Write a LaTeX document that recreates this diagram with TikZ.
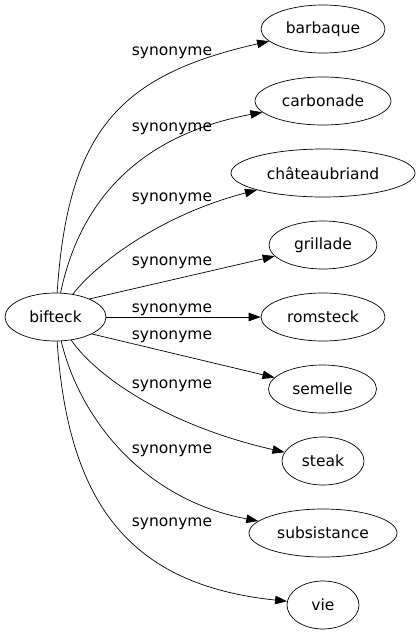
\documentclass[tikz,border=0pt]{standalone}
\usepackage{fontspec}
\setmainfont{DejaVu Sans}
\usetikzlibrary{shapes.geometric}
\usetikzlibrary{arrows.meta}

\tikzset{
  word/.style={draw, ellipse, inner sep=0pt, minimum height=48pt},
  syn/.style={draw, arrows={-{Triangle[length=12pt, width=8.5pt]}}},
  lbl/.style={anchor=base, inner sep=0pt},
}

\begin{document}
\begin{tikzpicture}[x=1pt, y=-1pt, line width=0.7pt, font=\fontsize{15.5}{18}\selectfont]
\useasboundingbox (0, 0) rectangle (420, 635);

% words
\node[word, minimum width=101pt] (bifteck) at (55.5, 317) {bifteck};
\node[word, minimum width=124pt] (barbaque) at (323, 29) {barbaque};
\node[word, minimum width=136pt] (carbonade) at (323, 101) {carbonade};
\node[word, minimum width=184pt] (chateau) at (323, 173) {châteaubriand};
\node[word, minimum width=108pt] (grillade) at (323, 245) {grillade};
\node[word, minimum width=124pt] (romsteck) at (323, 317) {romsteck};
\node[word, minimum width=108pt] (semelle) at (322.5, 389) {semelle};
\node[word, minimum width=82pt] (steak) at (323, 461) {steak};
\node[word, minimum width=148pt] (subsistance) at (323, 533) {subsistance};
\node[word, minimum width=72pt] (vie) at (323, 605) {vie};

% edges
\draw[syn] (bifteck) .. controls (68, 130) and (120, 75) .. (barbaque);
\draw[syn] (bifteck) .. controls (80, 200) and (140, 135) .. (carbonade);
\draw[syn] (bifteck) .. controls (95, 265) and (160, 215) .. (chateau);
\draw[syn] (bifteck.28) -- (grillade);
\draw[syn] (bifteck) -- (romsteck);
\draw[syn] (bifteck.-25) -- (semelle);
\draw[syn] (bifteck) .. controls (95, 375) and (165, 425) .. (steak);
\draw[syn] (bifteck) .. controls (80, 420) and (145, 500) .. (subsistance);
\draw[syn] (bifteck) .. controls (68, 504) and (130, 585) .. (vie);

% labels
\node[lbl] (l1) at (172, 55) {synonyme};
\node[lbl] (l2) at (172, 131.5) {synonyme};
\node[lbl] (l3) at (172, 201.5) {synonyme};
\node[lbl] (l4) at (172, 265) {synonyme};
\node[lbl] (l5) at (172, 312.5) {synonyme};
\node[lbl] (l6) at (172, 339.5) {synonyme};
\node[lbl] (l7) at (172, 388) {synonyme};
\node[lbl] (l8) at (172, 453) {synonyme};
\node[lbl] (l9) at (172, 526) {synonyme};
\end{tikzpicture}
\end{document}
